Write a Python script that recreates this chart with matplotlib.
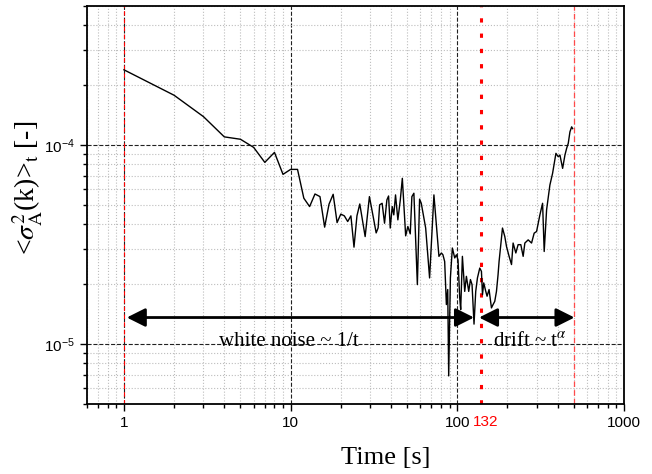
import matplotlib
matplotlib.use("Agg")
import matplotlib.pyplot as plt
from matplotlib.ticker import LogLocator, NullFormatter, FixedLocator, FixedFormatter

plt.rcParams['font.family'] = 'Liberation Sans'
plt.rcParams['mathtext.fontset'] = 'custom'
plt.rcParams['mathtext.rm'] = 'Liberation Sans'
plt.rcParams['mathtext.it'] = 'Liberation Sans:italic'

# averaging time [s] and the variance
time_s = [1, 2, 3, 4, 5, 6, 7, 8, 9, 10, 11, 12, 13, 14, 15, 16, 17, 18, 19, 20,
          21, 22, 23, 24, 25, 26, 28.0, 29.7, 31.4, 32.6, 33.5, 34.2, 35.4, 36.6,
          37.8, 38.7, 39.6, 40.7, 41.6, 42.6, 44.0, 45.5, 46.8, 49.0, 50.5, 52.2,
          53.4, 54.9, 57.6, 59.4, 60.8, 64.6, 68.2, 72.4, 74.9, 77.6, 80.3, 82.0,
          84.0, 86.0, 87.6, 88.8, 90.9, 93.4, 96.5, 98.8, 101.0, 103.4, 104.8,
          107.3, 110.8, 113.4, 117.1, 119.9, 122.6, 126.0, 129.0, 132.1, 136.4,
          139.6, 141.6, 144.1, 148.2, 150.9, 155.1, 160.3, 163.9, 167.8, 171.8,
          175.6, 178.1, 182.4, 186.7, 192.8, 197.4, 204.6, 211.5, 216.2, 224.5,
          231.7, 240.5, 248.4, 254.3, 266.2, 279.0, 289.2, 299.0, 313.0, 324.9,
          332.2, 343.4, 359.4, 373.1, 390.6, 403.3, 412.9, 428.5, 442.4, 452.9,
          463.1, 474.1, 485.4, 492.1]
sigma2 = [2.39e-4, 1.78e-4, 1.39e-4, 1.10e-4, 1.07e-4, 9.74e-5, 8.19e-5, 9.19e-5,
          7.13e-5, 7.55e-5, 7.55e-5, 5.41e-5, 4.91e-5, 5.68e-5, 5.51e-5, 3.87e-5,
          5.05e-5, 5.66e-5, 4.08e-5, 4.50e-5, 4.41e-5, 4.13e-5, 4.41e-5, 3.07e-5,
          4.41e-5, 5.06e-5, 3.47e-5, 5.51e-5, 4.30e-5, 3.62e-5, 3.84e-5, 5.01e-5,
          5.10e-5, 4.05e-5, 5.30e-5, 5.55e-5, 3.83e-5, 4.91e-5, 4.46e-5, 5.62e-5,
          4.21e-5, 5.30e-5, 6.81e-5, 3.50e-5, 3.90e-5, 3.58e-5, 5.51e-5, 5.73e-5,
          1.99e-5, 5.35e-5, 5.10e-5, 3.83e-5, 2.15e-5, 5.62e-5, 3.97e-5, 2.76e-5,
          2.87e-5, 2.81e-5, 2.60e-5, 1.58e-5, 1.88e-5, 6.92e-6, 2.15e-5, 3.04e-5,
          2.71e-5, 2.81e-5, 2.65e-5, 1.71e-5, 1.49e-5, 2.76e-5, 1.84e-5, 2.19e-5,
          1.84e-5, 2.11e-5, 1.99e-5, 1.26e-5, 1.84e-5, 2.15e-5, 2.41e-5, 2.32e-5,
          1.77e-5, 2.03e-5, 1.84e-5, 1.74e-5, 1.88e-5, 1.52e-5, 1.58e-5, 1.64e-5,
          1.84e-5, 2.23e-5, 2.60e-5, 3.16e-5, 3.83e-5, 3.47e-5, 3.09e-5, 2.76e-5,
          2.51e-5, 3.22e-5, 2.87e-5, 3.16e-5, 3.16e-5, 2.76e-5, 3.22e-5, 3.34e-5,
          3.22e-5, 3.61e-5, 3.68e-5, 4.46e-5, 5.10e-5, 2.92e-5, 4.73e-5, 6.30e-5,
          7.22e-5, 9.09e-5, 8.74e-5, 8.91e-5, 7.64e-5, 8.91e-5, 9.63e-5, 1.02e-4,
          1.166e-4, 1.235e-4, 1.21e-4]

x_ticks = [1, 10, 100, 1000]
x_tick_labels = ['1', '10', '100', '1000']
y_ticks = [1e-5, 1e-4]
y_tick_labels = [r'10$^{-5}$', r'10$^{-4}$']

t_start, t_break, t_end = 1, 139, 500
break_label = '132'
arrow_level = 1.36e-5

fig = plt.figure(figsize=(6.52, 4.74), dpi=100)
ax = fig.add_axes([0.1334, 0.1477, 0.8236, 0.8396])
ax.set_xscale('log')
ax.set_yscale('log')
ax.set_xlim(0.6, 1000)
ax.set_ylim(5e-6, 5e-4)

ax.xaxis.set_major_locator(FixedLocator(x_ticks))
ax.xaxis.set_major_formatter(FixedFormatter(x_tick_labels))
ax.yaxis.set_major_locator(FixedLocator(y_ticks))
ax.yaxis.set_major_formatter(FixedFormatter(y_tick_labels))
for axis in (ax.xaxis, ax.yaxis):
    axis.set_minor_locator(LogLocator(base=10, subs=range(2, 10), numticks=20))
    axis.set_minor_formatter(NullFormatter())

ax.grid(which='minor', color='#bdbdbd', ls=':', lw=0.8)
ax.grid(which='major', color='#222222', ls='--', lw=0.8)
ax.set_axisbelow(True)

ax.tick_params(which='both', direction='out', top=False, right=False,
               labelsize=11, width=1, pad=4)
ax.tick_params(which='major', length=5)
ax.tick_params(which='minor', length=3)
for s in ax.spines.values():
    s.set_linewidth(1.3)

# boundaries of the two regimes
ax.axvline(t_start, color='red', ls=(0, (4, 3)), lw=0.8)
ax.axvline(t_break, color='red', ls=(0, (1.4, 3.6)), lw=2.2)
ax.axvline(t_end, color='#ff4a4a', ls=(0, (4.5, 2.5)), lw=0.9)

ax.plot(time_s, sigma2, color='black', lw=1.0)

arrow = dict(arrowstyle='<|-|>,head_length=0.8,head_width=0.4',
             color='black', lw=2, mutation_scale=14, shrinkA=0, shrinkB=0)
ax.annotate('', xy=(1.04, arrow_level), xytext=(126, arrow_level), arrowprops=arrow)
ax.annotate('', xy=(135, arrow_level), xytext=(505, arrow_level), arrowprops=arrow)

ax.text(9.8, 1.03e-5, 'white noise ~ 1/t', ha='center', va='center',
        family='Liberation Serif', fontsize=15)
ax.text(272, 1.03e-5, r'drift ~ t$^{\alpha}$', ha='center', va='center',
        family='Liberation Serif', fontsize=15, math_fontfamily='stix')

ax.annotate(break_label, xy=(t_break, 0), xycoords=('data', 'axes fraction'),
            xytext=(3, -8), textcoords='offset points', ha='center', va='top',
            color='red', fontsize=11)

fig.text(28 / 652, 1 - 188 / 474, r'<$\sigma^2_{\rm A}$(k)>$_{\rm t}$ [-]',
         rotation=90, ha='center', va='center', family='Liberation Serif',
         fontsize=20, math_fontfamily='stix')
fig.text(386 / 652, 1 - 458 / 474, 'Time [s]', ha='center', va='center',
         family='Liberation Serif', fontsize=19)

fig.savefig('out.png', dpi=100)
